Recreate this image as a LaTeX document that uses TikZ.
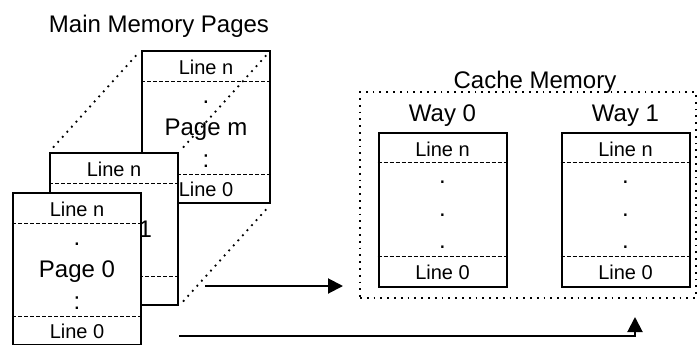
\documentclass[tikz,border=0pt]{standalone}
\usepackage{fontspec}
\setmainfont{Liberation Sans}
\usepackage{tikz}
\usetikzlibrary{positioning, calc, arrows.meta}
\tikzset{
  page/.style={
    rectangle, draw=black, line width=1pt,
    fill=white, inner sep=0pt,
    minimum width=64pt, minimum height=76pt
  },
  sep/.style={line width=0.45pt, dash pattern=on 2pt off 1pt},
  persp/.style={
    line width=0.9pt, dash pattern=on 0.9pt off 2.5pt,
    shorten <=3pt, shorten >=3pt
  },
  cachebox/.style={
    rectangle, draw=black, line width=0.9pt,
    dash pattern=on 0.9pt off 2.5pt,
    minimum width=168pt, minimum height=103pt
  },
  bigtxt/.style={font=\fontsize{12}{14}\selectfont, inner sep=0pt, anchor=base},
  linetxt/.style={font=\fontsize{10}{12}\selectfont, inner sep=0pt, anchor=base},
  arrow/.style={-{Triangle[length=7.5pt, width=7.5pt]}, line width=1pt}
}

\begin{document}
\begin{tikzpicture}[x=0.5pt, y=-0.5pt]
        \useasboundingbox (0,0) rectangle (698,344);
        \node[bigtxt] (mmtitle) at (159,32) {Main Memory Pages};
        % pages, back to front
        \foreach \pg/\x/\y/\lab/\bg in {pgm/206/127/m/none, pg1/114/229/1/white, pg0/77/269/0/white} {
          \node[page, fill=\bg] (\pg) at (\x,\y) {};
          \draw[sep] ($(\pg.north west)+(0,31)$) -- ($(\pg.north east)+(0,31)$);
          \draw[sep] ($(\pg.south west)+(0,-30)$) -- ($(\pg.south east)+(0,-30)$);
          \node[linetxt] at ($(\pg.north)+(0,24)$) {Line n};
          \node[linetxt] at ($(\pg.south)+(0,-8)$) {Line 0};
          \node[bigtxt] at ($(\pg.north)+(0,53)$) {.};
          \node[bigtxt] at ($(\pg.north)+(0,85)$) {Page \lab};
          \node[bigtxt] at ($(\pg.north)+(0,117)$) {:};
        }
        \draw[persp] (pg1.north west) -- (pgm.north west);
        \draw[persp] (pg1.north east) -- (pgm.north east);
        \draw[persp] (pg1.south east) -- (pgm.south east);
        % cache
        \node[cachebox] (cache) at (528,195) {};
        \node[bigtxt] (cachetitle) at (535,88) {Cache Memory};
        \foreach \w/\x in {0/442.5, 1/625.5} {
          \node[page, minimum height=77pt] (way\w) at (\x,210) {};
          \draw[sep] ($(way\w.north west)+(0,30)$) -- ($(way\w.north east)+(0,30)$);
          \draw[sep] ($(way\w.south west)+(0,-32)$) -- ($(way\w.south east)+(0,-32)$);
          \node[bigtxt] at ($(way\w.north)+(0,-11)$) {Way \w};
          \node[linetxt] at ($(way\w.north)+(0,24)$) {Line n};
          \node[linetxt] at ($(way\w.south)+(0,-9)$) {Line 0};
          \foreach \d in {51, 84, 116}
            \node[bigtxt] at ($(way\w.north)+(0,\d)$) {.};
        }
        % transfers
        \coordinate (upsrc) at (205,286);
        \coordinate (uptip) at (343,286);
        \coordinate (lowsrc) at (pg1.east |- 0,336);
        \coordinate (lowtip) at (635,317);
        \draw[arrow] (upsrc) -- (uptip);
        \draw[arrow] (lowsrc) -| (lowtip);
      \end{tikzpicture}
\end{document}
